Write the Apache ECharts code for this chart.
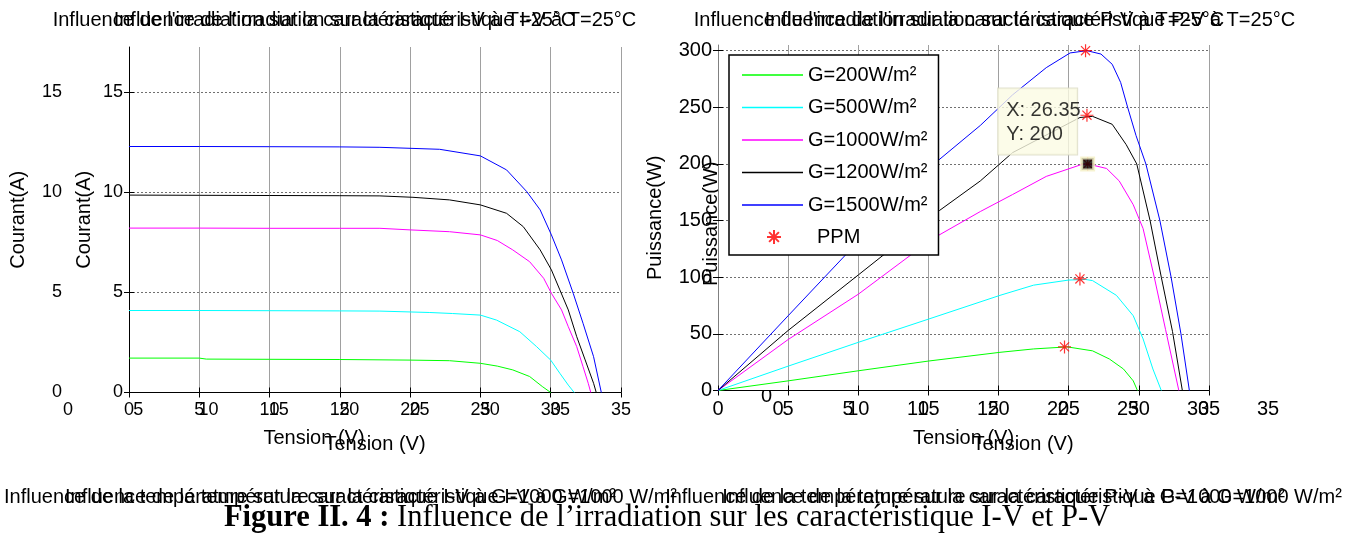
<!DOCTYPE html>
<html><head><meta charset="utf-8">
<script src="https://cdn.jsdelivr.net/npm/echarts@6/dist/echarts.min.js"></script>
<style>html,body{margin:0;padding:0;background:#fff}#c{width:1357px;height:537px}</style>
</head><body><div id="c"></div>
<script>
// ---------- text ----------
const TITLE_IV = "Influence de l'irradiation sur la caractéristique I-V à T=25°C";
const TITLE_PV = "Influence de l'irradiation sur la caractéristique P-V à T=25°C";
const CAPTION_IV = "Influence de la température sur la caractéristique I-V à G=1000 W/m²";
const CAPTION_PV = "Influence de la température sur la caractéristique P-V à G=1000 W/m²";
const FIG_LABEL = "Figure II. 4 :";
const FIG_TEXT = " Influence de l’irradiation sur les caractéristique I-V et P-V";
const X_NAME = "Tension (V)";
const I_NAME = "Courant(A)";
const P_NAME = "Puissance(W)";

// ---------- categories / ticks ----------
const SERIES_NAMES = ['G=200W/m²','G=500W/m²','G=1000W/m²','G=1200W/m²','G=1500W/m²'];
const SERIES_COLORS = ['#00ff00','#00ffff','#ff00ff','#000000','#0000ff'];
const I_TICKS = [0,5,10,15];
const P_TICKS = [0,50,100,150,200,250,300];
const V_MAX = 35, I_MAX = 17.275, P_MAX = 305;

// ---------- I-V data (left) ----------
const V_IV_200  = [0,5,5.5,10,15,20,22.8,25,26.2,27.3,28.5,29.4,30];
const I_IV_200  = [1.72,1.72,1.67,1.66,1.65,1.62,1.59,1.46,1.32,1.13,0.8,0.3,0];
const V_IV_500  = [0,5,10,15,17.85,21.4,23,25,26.15,27.8,29,30,30.65,31.25,31.67];
const I_IV_500  = [4.1,4.1,4.09,4.08,4.07,4.0,3.95,3.87,3.62,3.04,2.29,1.62,0.96,0.37,0];
const V_IV_1000 = [0,5,10,15,17.85,20,22.8,25,26.2,27.3,28.5,29.5,30.05,30.77,31.25,31.85,32.3,32.67,32.85];
const I_IV_1000 = [8.22,8.22,8.21,8.21,8.21,8.13,8.04,7.88,7.6,7.13,6.54,5.71,4.96,4.13,3.29,2.29,1.29,0.46,0];
const V_IV_1200 = [0,5,10,15,17.85,20.2,22.8,25,26.86,28.05,29.25,30.05,30.65,31.25,31.85,32.45,33.05,33.24];
const I_IV_1200 = [9.87,9.86,9.85,9.84,9.83,9.76,9.63,9.38,8.96,8.29,7.13,6.13,5.13,4.13,2.79,1.63,0.46,0];
const V_IV_1500 = [0,5,10,15,17.85,22.1,25,26.86,28.3,29.25,30.05,30.77,31.6,32.3,33.05,33.6];
const I_IV_1500 = [12.3,12.3,12.29,12.28,12.26,12.16,11.83,11.13,10.04,9.13,7.88,6.63,4.96,3.46,1.79,0];

// ---------- P-V data (right) ----------
const V_PV_200  = [0,5,10,15,20.1,22.5,24.9,26.7,27.9,28.9,29.6,29.9];
const P_PV_200  = [0,8.5,17.4,26,33.7,36.7,38.5,35,27.8,19,8.5,0];
const V_PV_500  = [0,5,10,15,20.1,22.5,25,26.2,26.7,28.4,29.6,30.3,31,31.6];
const P_PV_500  = [0,21.5,42.5,63,84,93,97.5,98,97,84,66,45.6,19,0];
const V_PV_1000 = [0,5,10,15.3,18.7,21,23.4,25.8,26.35,27.7,28.6,29.6,30.3,31.1,31.9,32.85];
const P_PV_1000 = [0,45,85,134,158,173,189,199,200,196,185,164,143,100,54,0];
const V_PV_1200 = [0,5,10,15.8,18.7,21,25.8,26.7,28.1,29.1,29.85,30.8,31.6,32.4,33.1];
const P_PV_1200 = [0,53,102,159,185,210,241,242,235,217,200,150,100,52,0];
const V_PV_1500 = [0,5,9.5,15.3,18.7,21,23.4,25.1,26.3,27.3,28.1,28.7,29.2,29.8,30.5,31.5,32.3,33,33.6];
const P_PV_1500 = [0,66,125,199,234,261,285,298,300,297,288,272,250,225,200,150,100,50,0];

// ---------- maximum power points ----------
const PPM_V = [24.7, 25.8, 26.35, 26.3, 26.2];
const PPM_P = [38.5, 98.5, 200, 243, 300];
const TIP_X = 26.35, TIP_Y = 200;

const FONT = 'Liberation Sans';
const zip = (xs, ys) => xs.map((x, i) => [x, ys[i]]);
const IV = [zip(V_IV_200,I_IV_200), zip(V_IV_500,I_IV_500), zip(V_IV_1000,I_IV_1000), zip(V_IV_1200,I_IV_1200), zip(V_IV_1500,I_IV_1500)];
const PV = [zip(V_PV_200,P_PV_200), zip(V_PV_500,P_PV_500), zip(V_PV_1000,P_PV_1000), zip(V_PV_1200,P_PV_1200), zip(V_PV_1500,P_PV_1500)];

const txt = (size) => ({fontSize: size, color: '#000', fontFamily: FONT});
const noAxis = {axisLine:{show:false}, axisTick:{show:false}, splitLine:{show:false}};

function realX(grid, fs, gap) {
  return {gridIndex: grid, type: 'value', min: 0, max: V_MAX, interval: 5, z: 2,
    axisLine: {show: true, onZero: false, lineStyle: {color: '#000', width: 1}},
    axisTick: {show: true, inside: true, length: 5, lineStyle: {color: '#000'}},
    axisLabel: Object.assign({margin: 9}, txt(fs)),
    splitLine: {show: true, lineStyle: {color: '#a0a0a0', width: 1}},
    name: X_NAME, nameLocation: 'middle', nameGap: gap, nameTextStyle: txt(20)};
}
function topX(grid) {
  return {gridIndex: grid, type: 'value', position: 'top', min: 0, max: V_MAX, interval: 5, z: 2,
    axisLine: {show: false}, axisLabel: {show: false}, splitLine: {show: false},
    axisTick: {show: true, inside: true, length: 5, lineStyle: {color: '#000'}}};
}
function realY(grid, max, ticks, interval, fs, name, gap, lineColor) {
  return {gridIndex: grid, type: 'value', min: 0, max: max, interval: interval, z: 2,
    axisLine: {show: true, onZero: false, lineStyle: {color: lineColor, width: 1}},
    axisTick: {show: true, inside: true, length: 5, customValues: ticks, lineStyle: {color: '#000'}},
    axisLabel: Object.assign({margin: 6, customValues: ticks}, txt(fs)),
    splitLine: {show: true, lineStyle: {color: '#707070', width: 1, type: [2, 2]}},
    name: name, nameLocation: 'middle', nameGap: gap, nameTextStyle: txt(20)};
}
function rightY(grid, max, ticks, interval) {
  return {gridIndex: grid, type: 'value', position: 'right', min: 0, max: max, interval: interval, z: 2,
    axisLine: {show: false}, axisLabel: {show: false}, splitLine: {show: false},
    axisTick: {show: true, inside: true, length: 5, customValues: ticks, lineStyle: {color: '#000'}}};
}
function ghostX(grid, fs, gap) {
  return Object.assign({gridIndex: grid, type: 'value', min: 0, max: V_MAX, interval: 5, z: 0,
    axisLabel: Object.assign({margin: 9}, txt(fs)),
    name: X_NAME, nameLocation: 'middle', nameGap: gap, nameTextStyle: txt(20)}, noAxis);
}
function ghostY(grid, max, ticks, interval, fs, name, gap) {
  return Object.assign({gridIndex: grid, type: 'value', min: 0, max: max, interval: interval, z: 0,
    axisLabel: Object.assign({margin: 6, customValues: ticks}, txt(fs)),
    name: name, nameLocation: 'middle', nameGap: gap, nameTextStyle: txt(20)}, noAxis);
}
const hiddenX = (g) => ({gridIndex: g, type: 'value', show: false, min: 0, max: V_MAX});
const hiddenY = (g) => ({gridIndex: g, type: 'value', show: false, min: 0, max: 1});

const lineBase = {type: 'line', symbol: 'none', smooth: false, z: 3, silent: true, animation: false};
const series = [];
SERIES_NAMES.forEach((n, i) => {
  series.push(Object.assign({name: n, xAxisIndex: 0, yAxisIndex: 0, data: IV[i],
    lineStyle: {color: SERIES_COLORS[i], width: 1}, itemStyle: {color: SERIES_COLORS[i]}}, lineBase));
});
SERIES_NAMES.forEach((n, i) => {
  series.push(Object.assign({name: n, xAxisIndex: 2, yAxisIndex: 2, data: PV[i],
    lineStyle: {color: SERIES_COLORS[i], width: 1}, itemStyle: {color: SERIES_COLORS[i]}}, lineBase));
});
const STAR = 'path://M10 0V20M0 10H20M3 3L17 17M3 17L17 3';
series.push({name: 'PPM', type: 'scatter', xAxisIndex: 2, yAxisIndex: 2, data: zip(PPM_V, PPM_P),
  symbol: STAR, symbolSize: 13, itemStyle: {color: 'rgba(255,0,0,0)', borderColor: '#ff0000', borderWidth: 1.2}, z: 4, silent: true, animation: false});
// data tip on the 1000 W/m² curve
series.push({name: 'tip', type: 'scatter', xAxisIndex: 2, yAxisIndex: 2, data: [[TIP_X, TIP_Y]],
  symbol: 'rect', symbolSize: 12, itemStyle: {color: '#000', borderColor: '#f4f0c4', borderWidth: 3}, z: 8, silent: true, animation: false,
  label: {show: true, position: [-82, -68], align: 'left', verticalAlign: 'top',
    formatter: () => 'X: ' + TIP_X + '\nY: ' + TIP_Y,
    backgroundColor: '#fbfbe4', borderColor: '#d9d9c3', borderWidth: 1, padding: [10, 7, 8, 8],
    fontSize: 20, lineHeight: 24, color: '#000', fontFamily: FONT, width: 64}});

const T20 = '20px "Liberation Sans"';
const graphic = [
  {type: 'text', x: 314, y: 20, z: 0, style: {text: TITLE_IV, align: 'center', verticalAlign: 'middle', font: T20, fill: '#000'}},
  {type: 'text', x: 375, y: 20, z: 0, style: {text: TITLE_IV, align: 'center', verticalAlign: 'middle', font: T20, fill: '#000'}},
  {type: 'text', x: 959, y: 20, z: 0, style: {text: TITLE_PV, align: 'center', verticalAlign: 'middle', font: T20, fill: '#000'}},
  {type: 'text', x: 1030, y: 20, z: 0, style: {text: TITLE_PV, align: 'center', verticalAlign: 'middle', font: T20, fill: '#000'}},
  {type: 'text', x: 310, y: 497, z: 0, style: {text: CAPTION_IV, align: 'center', verticalAlign: 'middle', font: T20, fill: '#000'}},
  {type: 'text', x: 371, y: 497, z: 0, style: {text: CAPTION_IV, align: 'center', verticalAlign: 'middle', font: T20, fill: '#000'}},
  {type: 'text', x: 975, y: 497, z: 0, style: {text: CAPTION_PV, align: 'center', verticalAlign: 'middle', font: T20, fill: '#000'}},
  {type: 'text', x: 1032, y: 497, z: 0, style: {text: CAPTION_PV, align: 'center', verticalAlign: 'middle', font: T20, fill: '#000'}},
  {type: 'text', x: 667, y: 518, z: 1, style: {text: '{b|' + FIG_LABEL + '}{n|' + FIG_TEXT + '}', align: 'center', verticalAlign: 'middle',
    rich: {b: {fontFamily: 'Liberation Serif', fontSize: 30.5, fontWeight: 'bold', fill: '#000'}, n: {fontFamily: 'Liberation Serif', fontSize: 30.5, fill: '#000'}}}}
];

const option = {
  animation: false,
  backgroundColor: '#fff',
  grid: [
    {left: 129, top: 47, width: 492, height: 345.5, show: true, backgroundColor: '#fff', borderWidth: 0, borderColor: 'transparent', z: 1},
    {left: 718, top: 45, width: 491, height: 345.5, show: true, backgroundColor: '#fff', borderWidth: 0, borderColor: 'transparent', z: 1},
    {left: 68, top: 47, width: 492, height: 345.5, show: false},
    {left: 778, top: 45, width: 490, height: 345.5, show: false},
    {left: 778, top: 51, width: 490, height: 345.5, show: false}
  ],
  xAxis: [
    realX(0, 18, 42),
    topX(0),
    realX(1, 20, 38),
    topX(1),
    ghostX(2, 18, 36),
    ghostX(3, 20, 44),
    hiddenX(4)
  ],
  yAxis: [
    realY(0, I_MAX, I_TICKS, 5, 18, I_NAME, 35, '#000'),
    rightY(0, I_MAX, I_TICKS, 5),
    realY(1, P_MAX, P_TICKS, 50, 20, P_NAME, 53, '#808080'),
    rightY(1, P_MAX, P_TICKS, 50),
    ghostY(2, I_MAX, I_TICKS, 5, 18, I_NAME, 40),
    hiddenY(3),
    ghostY(4, P_MAX, P_TICKS, 50, 20, P_NAME, 57)
  ],
  legend: [
    {orient: 'vertical', left: 729, top: 55, z: 10, selectedMode: false,
      backgroundColor: '#fff', borderColor: '#000', borderWidth: 1.5, borderRadius: 0,
      padding: [10, 11, 40, 13], itemWidth: 61, itemHeight: 1.5, itemGap: 12.5, icon: 'rect',
      textStyle: {fontSize: 20, color: '#000', fontFamily: FONT},
      data: SERIES_NAMES},
    {orient: 'vertical', left: 729, top: 227, z: 11, selectedMode: false,
      padding: [0, 0, 0, 37], itemWidth: 14, itemHeight: 14,
      textStyle: {fontSize: 20, color: '#000', fontFamily: FONT, padding: [0, 0, 0, 31]},
      data: ['PPM']}
  ],
  graphic: graphic,
  series: series
};
const chart = echarts.init(document.getElementById('c'), null, {renderer: 'canvas'});
chart.setOption(option);
</script></body></html>
